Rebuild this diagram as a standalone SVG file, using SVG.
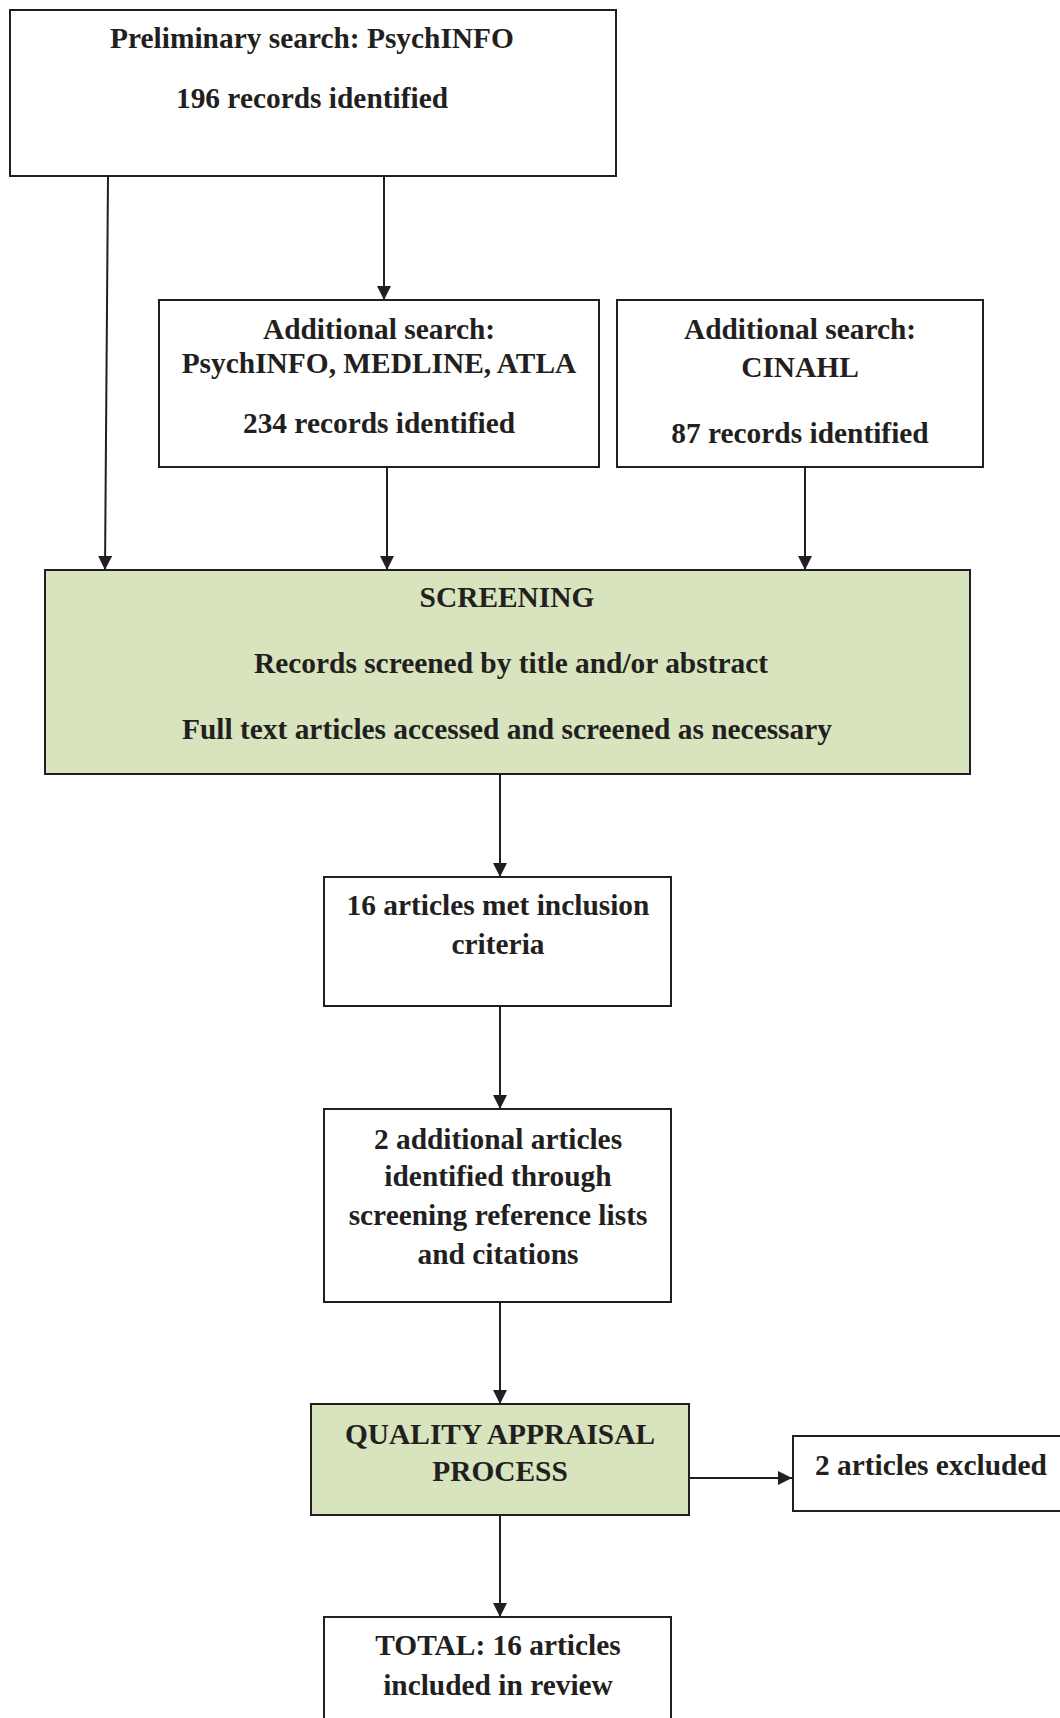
<svg xmlns="http://www.w3.org/2000/svg" width="1060" height="1718" viewBox="0 0 1060 1718">
<style>
.box{fill:#fff;stroke:#231f20;stroke-width:2}
.green{fill:#d7e4bd;stroke:#231f20;stroke-width:2}
text{font-family:"Liberation Serif","Times New Roman",serif;font-weight:bold;font-size:29.4px;fill:#231f20;text-anchor:middle}
.conn{stroke:#231f20;stroke-width:2;fill:none;marker-end:url(#ah)}
</style>
<defs>
<marker id="ah" markerWidth="14" markerHeight="14" refX="14" refY="7" orient="auto" markerUnits="userSpaceOnUse">
<path d="M0,0 L14,7 L0,14 Z" fill="#231f20"/>
</marker>
</defs>
<rect width="1060" height="1718" fill="#fff"/>
<g id="connectors">
<path class="conn" d="M108,176 L105,570"/>
<path class="conn" d="M384,176 L384,300"/>
<path class="conn" d="M387,467 L387,570"/>
<path class="conn" d="M805,467 L805,570"/>
<path class="conn" d="M500,774 L500,877"/>
<path class="conn" d="M500,1006 L500,1109"/>
<path class="conn" d="M500,1302 L500,1404"/>
<path class="conn" d="M689,1478 L792,1478"/>
<path class="conn" d="M500,1515 L500,1617"/>
</g>
<g id="n1">
<rect class="box" x="10" y="10" width="606" height="166"/>
<text x="312" y="48">Preliminary search: PsychINFO</text>
<text x="312" y="108">196 records identified</text>
</g>
<g id="n2">
<rect class="box" x="159" y="300" width="440" height="167"/>
<text x="379" y="339">Additional search:</text>
<text x="379" y="373">PsychINFO, MEDLINE, ATLA</text>
<text x="379" y="433">234 records identified</text>
</g>
<g id="n3">
<rect class="box" x="617" y="300" width="366" height="167"/>
<text x="800" y="339">Additional search:</text>
<text x="800" y="377">CINAHL</text>
<text x="800" y="443">87 records identified</text>
</g>
<g id="n4">
<rect class="green" x="45" y="570" width="925" height="204"/>
<text x="507" y="607">SCREENING</text>
<text x="511" y="673">Records screened by title and/or abstract</text>
<text x="507" y="739">Full text articles accessed and screened as necessary</text>
</g>
<g id="n5">
<rect class="box" x="324" y="877" width="347" height="129"/>
<text x="498" y="915">16 articles met inclusion</text>
<text x="498" y="954">criteria</text>
</g>
<g id="n6">
<rect class="box" x="324" y="1109" width="347" height="193"/>
<text x="498" y="1149">2 additional articles</text>
<text x="498" y="1186">identified through</text>
<text x="498" y="1225">screening reference lists</text>
<text x="498" y="1264">and citations</text>
</g>
<g id="n7">
<rect class="green" x="311" y="1404" width="378" height="111"/>
<text x="500" y="1444">QUALITY APPRAISAL</text>
<text x="500" y="1481">PROCESS</text>
</g>
<g id="n8">
<rect class="box" x="793" y="1436" width="280" height="75"/>
<text x="815" y="1475" style="text-anchor:start">2 articles excluded</text>
</g>
<g id="n9">
<rect class="box" x="324" y="1617" width="347" height="120"/>
<text x="498" y="1655">TOTAL: 16 articles</text>
<text x="498" y="1695">included in review</text>
</g>
</svg>
